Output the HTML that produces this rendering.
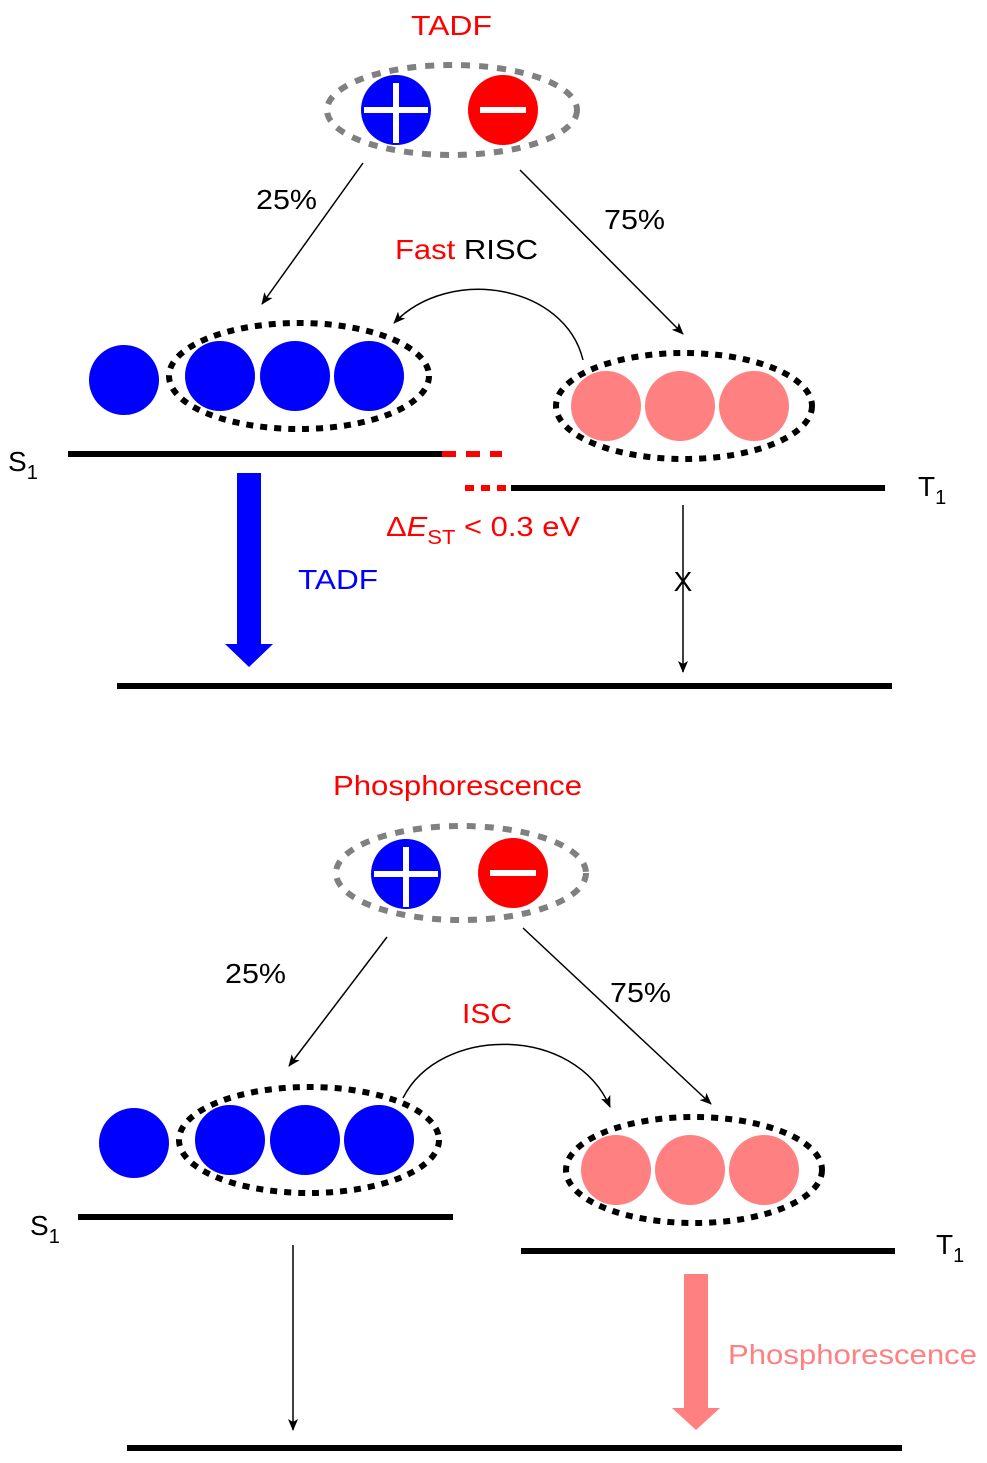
<!DOCTYPE html>
<html><head><meta charset="utf-8"><style>
html,body{margin:0;padding:0;background:#fff;}
svg{display:block;font-family:"Liberation Sans",sans-serif;}
</style></head><body>
<svg width="987" height="1463" viewBox="0 0 987 1463" xmlns="http://www.w3.org/2000/svg">
<defs>
<marker id="ah" markerWidth="12" markerHeight="10" refX="11" refY="5" orient="auto" markerUnits="userSpaceOnUse">
<path d="M0,0 L12,5 L0,10 L3,5 Z" fill="#000"/>
</marker>
</defs>

<!-- ===== TOP ===== -->
<text x="411" y="35" font-size="28" fill="#f00" textLength="81" lengthAdjust="spacingAndGlyphs">TADF</text>
<ellipse cx="452" cy="110" rx="125" ry="45" fill="none" stroke="#808080" stroke-width="6" stroke-dasharray="9 9"/>
<circle cx="396" cy="110" r="35" fill="#00f"/>
<rect x="364" y="107" width="64" height="6" fill="#fff"/><rect x="393" y="83" width="6" height="60" fill="#fff"/>
<circle cx="503" cy="110" r="35" fill="#f00"/>
<rect x="480" y="107" width="46" height="6" fill="#fff"/>

<line x1="363" y1="163" x2="262" y2="304" stroke="#000" stroke-width="1.5" marker-end="url(#ah)"/>
<text x="256" y="209" font-size="28" textLength="61" lengthAdjust="spacingAndGlyphs">25%</text>
<line x1="520" y1="170" x2="683" y2="334" stroke="#000" stroke-width="1.5" marker-end="url(#ah)"/>
<text x="604" y="229" font-size="28" textLength="61" lengthAdjust="spacingAndGlyphs">75%</text>
<text x="395" y="259" font-size="28" textLength="143" lengthAdjust="spacingAndGlyphs"><tspan fill="#f00">Fast</tspan> RISC</text>
<path d="M583,360 C565,285 450,265 394,323" fill="none" stroke="#000" stroke-width="1.5" marker-end="url(#ah)"/>

<circle cx="124" cy="380" r="35" fill="#00f"/>
<circle cx="220" cy="376" r="35" fill="#00f"/>
<circle cx="295" cy="376" r="35" fill="#00f"/>
<circle cx="369" cy="376" r="35" fill="#00f"/>
<ellipse cx="299" cy="376" rx="130" ry="53" fill="none" stroke="#000" stroke-width="6" stroke-dasharray="7 7"/>

<circle cx="606" cy="406" r="35" fill="#ff8080"/>
<circle cx="680" cy="406" r="35" fill="#ff8080"/>
<circle cx="754" cy="406" r="35" fill="#ff8080"/>
<ellipse cx="684" cy="406" rx="128" ry="53" fill="none" stroke="#000" stroke-width="6" stroke-dasharray="7 7"/>

<line x1="68" y1="454" x2="442" y2="454" stroke="#000" stroke-width="6"/>
<line x1="442" y1="454" x2="502" y2="454" stroke="#f00" stroke-width="6" stroke-dasharray="14 10"/>
<line x1="465" y1="488" x2="511" y2="488" stroke="#f00" stroke-width="6" stroke-dasharray="9 7"/>
<line x1="511" y1="488" x2="885" y2="488" stroke="#000" stroke-width="6"/>
<text x="8" y="471" font-size="28">S<tspan font-size="20" dy="8">1</tspan></text>
<text x="918" y="496" font-size="28">T<tspan font-size="20" dy="8">1</tspan></text>

<polygon points="237,473 261,473 261,644 273,644 249,667 225,644 237,644" fill="#00f"/>
<text x="298" y="589" font-size="28" fill="#00f" textLength="80" lengthAdjust="spacingAndGlyphs">TADF</text>
<text x="386" y="536" font-size="28" fill="#f00" textLength="194" lengthAdjust="spacingAndGlyphs">Δ<tspan font-style="italic">E</tspan><tspan font-size="20" dy="8">ST</tspan><tspan dy="-8"> &lt; 0.3 eV</tspan></text>

<line x1="683" y1="505" x2="683" y2="672" stroke="#000" stroke-width="1.5" marker-end="url(#ah)"/>
<text x="683" y="591" font-size="28" text-anchor="middle">X</text>
<line x1="117" y1="686" x2="892" y2="686" stroke="#000" stroke-width="6"/>

<!-- ===== BOTTOM ===== -->
<text x="333" y="795" font-size="28" fill="#f00" textLength="249" lengthAdjust="spacingAndGlyphs">Phosphorescence</text>
<ellipse cx="461" cy="873" rx="125" ry="47" fill="none" stroke="#808080" stroke-width="6" stroke-dasharray="9 9"/>
<circle cx="406" cy="874" r="35" fill="#00f"/>
<rect x="374" y="871" width="64" height="6" fill="#fff"/><rect x="403" y="847" width="6" height="60" fill="#fff"/>
<circle cx="513" cy="873" r="35" fill="#f00"/>
<rect x="490" y="870" width="46" height="6" fill="#fff"/>

<line x1="387" y1="937" x2="289" y2="1066" stroke="#000" stroke-width="1.5" marker-end="url(#ah)"/>
<text x="225" y="983" font-size="28" textLength="61" lengthAdjust="spacingAndGlyphs">25%</text>
<line x1="523" y1="928" x2="711" y2="1104" stroke="#000" stroke-width="1.5" marker-end="url(#ah)"/>
<text x="610" y="1002" font-size="28" textLength="61" lengthAdjust="spacingAndGlyphs">75%</text>
<text x="462" y="1023" font-size="28" fill="#f00" textLength="50" lengthAdjust="spacingAndGlyphs">ISC</text>
<path d="M403,1098 C440,1025 575,1025 610,1107" fill="none" stroke="#000" stroke-width="1.5" marker-end="url(#ah)"/>

<circle cx="134" cy="1143" r="35" fill="#00f"/>
<circle cx="230" cy="1140" r="35" fill="#00f"/>
<circle cx="305" cy="1140" r="35" fill="#00f"/>
<circle cx="379" cy="1140" r="35" fill="#00f"/>
<ellipse cx="309" cy="1140" rx="130" ry="53" fill="none" stroke="#000" stroke-width="6" stroke-dasharray="7 7"/>

<circle cx="616" cy="1170" r="35" fill="#ff8080"/>
<circle cx="690" cy="1170" r="35" fill="#ff8080"/>
<circle cx="764" cy="1170" r="35" fill="#ff8080"/>
<ellipse cx="694" cy="1170" rx="128" ry="53" fill="none" stroke="#000" stroke-width="6" stroke-dasharray="7 7"/>

<line x1="78" y1="1217" x2="453" y2="1217" stroke="#000" stroke-width="6"/>
<line x1="521" y1="1251" x2="895" y2="1251" stroke="#000" stroke-width="6"/>
<text x="30" y="1235" font-size="28">S<tspan font-size="20" dy="8">1</tspan></text>
<text x="936" y="1254" font-size="28">T<tspan font-size="20" dy="8">1</tspan></text>

<line x1="293" y1="1245" x2="293" y2="1430" stroke="#000" stroke-width="1.5" marker-end="url(#ah)"/>
<polygon points="684,1274 708,1274 708,1408 720,1408 696,1430 672,1408 684,1408" fill="#ff8080"/>
<text x="728" y="1364" font-size="28" fill="#ff8080" textLength="249" lengthAdjust="spacingAndGlyphs">Phosphorescence</text>
<line x1="127" y1="1448" x2="902" y2="1448" stroke="#000" stroke-width="6"/>
</svg>
</body></html>
